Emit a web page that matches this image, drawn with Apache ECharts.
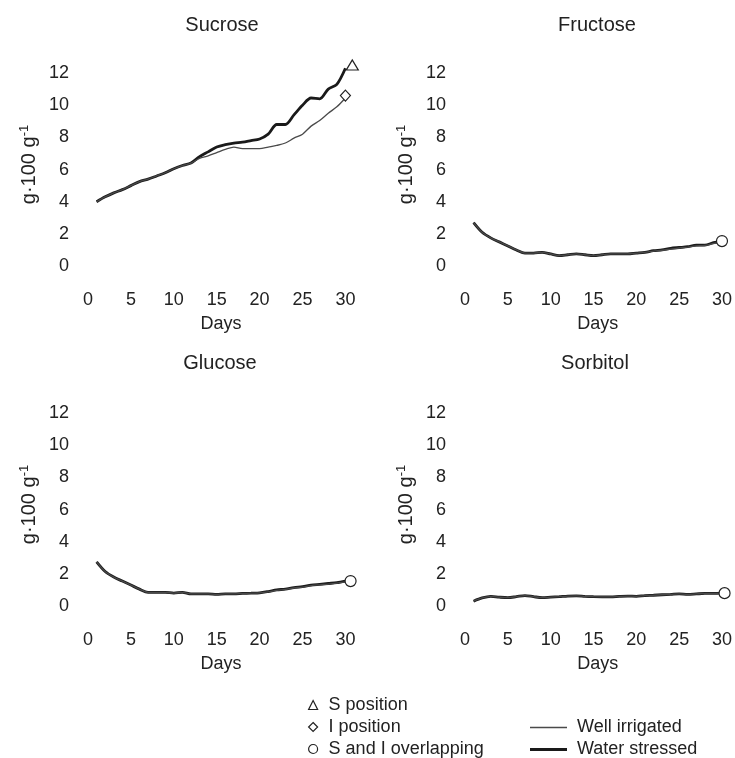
<!DOCTYPE html>
<html>
<head>
<meta charset="utf-8">
<script src="https://cdn.jsdelivr.net/npm/echarts@6/dist/echarts.min.js"></script>
<style>html,body{margin:0;padding:0;background:#fff}#c{width:735px;height:758px}</style>
</head>
<body>
<div id="c"></div>
<script>
var days = [1,2,3,4,5,6,7,8,9,10,11,12,13,14,15,16,17,18,19,20,21,22,23,24,25,26,27,28,29,30];
var panelTitles = ['Sucrose','Fructose','Glucose','Sorbitol'];
var xTicks = [0,5,10,15,20,25,30];
var yTicks = [0,2,4,6,8,10,12];

var sucroseWell = [4.0,4.3,4.55,4.75,5.0,5.25,5.4,5.6,5.8,6.05,6.25,6.4,6.7,6.85,7.05,7.25,7.4,7.3,7.3,7.3,7.4,7.5,7.65,7.95,8.2,8.7,9.05,9.5,9.9,10.45];
var sucroseStress = [4.0,4.3,4.55,4.75,5.0,5.25,5.4,5.6,5.8,6.05,6.25,6.4,6.8,7.1,7.4,7.55,7.65,7.7,7.8,7.9,8.2,8.8,8.8,9.4,10.0,10.45,10.4,11.0,11.3,12.3];
var fructoseWell = [2.7,2.1,1.75,1.5,1.25,1.0,0.8,0.8,0.85,0.75,0.65,0.7,0.75,0.7,0.65,0.7,0.75,0.75,0.75,0.8,0.85,0.93,0.98,1.05,1.12,1.18,1.25,1.28,1.4,1.5];
var fructoseStress = [2.7,2.1,1.75,1.5,1.25,1.0,0.8,0.8,0.85,0.75,0.65,0.7,0.75,0.7,0.65,0.7,0.75,0.75,0.75,0.8,0.85,0.95,1.0,1.1,1.15,1.2,1.3,1.3,1.45,1.55];
var glucoseWell = [2.75,2.15,1.8,1.55,1.3,1.05,0.85,0.85,0.85,0.8,0.85,0.75,0.75,0.75,0.72,0.75,0.75,0.78,0.8,0.82,0.88,0.97,1.03,1.12,1.18,1.27,1.32,1.36,1.42,1.5];
var glucoseStress = [2.75,2.15,1.8,1.55,1.3,1.05,0.85,0.85,0.85,0.8,0.85,0.75,0.75,0.75,0.72,0.75,0.75,0.78,0.8,0.82,0.9,1.0,1.05,1.15,1.2,1.3,1.35,1.4,1.45,1.55];
var sorbitolWell = [0.3,0.5,0.6,0.55,0.52,0.58,0.65,0.58,0.52,0.55,0.58,0.62,0.63,0.6,0.58,0.57,0.57,0.6,0.62,0.6,0.65,0.67,0.7,0.72,0.75,0.72,0.75,0.78,0.78,0.8];
var sorbitolStress = [0.3,0.5,0.6,0.55,0.52,0.58,0.65,0.58,0.52,0.55,0.58,0.62,0.63,0.6,0.58,0.57,0.57,0.6,0.62,0.6,0.65,0.67,0.7,0.72,0.75,0.72,0.75,0.78,0.78,0.8];

var sPositionMark = [[30.8, 12.5]];
var iPositionMark = [[30.0, 10.6]];
var overlapMarks = [[], [[30.0, 1.55]], [[30.6, 1.55]], [[30.3, 0.8]]];

var markerLegend = ['S position', 'I position', 'S and I overlapping'];
var lineLegend = ['Well irrigated', 'Water stressed'];

var wellSets = [sucroseWell, fructoseWell, glucoseWell, sorbitolWell];
var stressSets = [sucroseStress, fructoseStress, glucoseStress, sorbitolStress];

function pairs(arr){ return arr.map(function(v,i){ return [days[i], v]; }); }

var FONT = 'Liberation Sans, Arial, Helvetica, sans-serif';
var TXT = '#222';
var THIN = '#4a4a4a', THICK = '#1a1a1a';

var gridPos = [
  {left: 88, right: 381, top: 57, bottom: 492},
  {left: 465, right: 4, top: 57, bottom: 492},
  {left: 88, right: 381, top: 397, bottom: 152},
  {left: 465, right: 4, top: 397, bottom: 152}
];
var titlePos = [[222, 14], [597, 14], [220, 352], [595, 352]];

var grids = [], xAxes = [], yAxes = [], titles = [], series = [];
for (var i = 0; i < 4; i++) {
  grids.push(gridPos[i]);
  titles.push({text: panelTitles[i], left: titlePos[i][0], top: titlePos[i][1], textAlign: 'center', padding: 0,
    textStyle: {fontFamily: FONT, fontSize: 20, fontWeight: 'normal', color: TXT, lineHeight: 22}});
  xAxes.push({type: 'value', gridIndex: i, min: 0, max: 31, interval: 5,
    name: 'Days', nameLocation: 'middle', nameGap: 49,
    nameTextStyle: {fontFamily: FONT, fontSize: 18, color: TXT},
    axisLine: {show: false}, axisTick: {show: false}, splitLine: {show: false},
    axisLabel: {margin: 25, fontFamily: FONT, fontSize: 18, color: TXT,
      formatter: function(v){ return xTicks.indexOf(v) >= 0 ? String(v) : ''; }}});
  yAxes.push({type: 'value', gridIndex: i, min: 0, max: 13, interval: 1,
    name: 'g·100 g{s|-1}', nameLocation: 'middle', nameGap: 47, nameRotate: 90,
    nameTextStyle: {fontFamily: FONT, fontSize: 20, color: TXT, lineHeight: 23, padding: [0,6,0,0],
      rich: {s: {fontFamily: FONT, fontSize: 13, color: TXT, verticalAlign: 'top', lineHeight: 14}}},
    axisLine: {show: false}, axisTick: {show: false}, splitLine: {show: false},
    axisLabel: {margin: 19, fontFamily: FONT, fontSize: 18, color: TXT,
      formatter: function(v){ return yTicks.indexOf(v) >= 0 ? String(v) : ''; }}});
  series.push({type: 'line', name: lineLegend[0], xAxisIndex: i, yAxisIndex: i,
    data: pairs(wellSets[i]), symbol: 'none', smooth: 0.3, clip: false,
    lineStyle: {color: THIN, width: 1.3}, itemStyle: {color: THIN}, z: 3});
  series.push({type: 'line', name: lineLegend[1], xAxisIndex: i, yAxisIndex: i,
    data: pairs(stressSets[i]), symbol: 'none', smooth: 0.3, clip: false,
    lineStyle: {color: THICK, width: 2.8}, itemStyle: {color: THICK}, z: 2});
  if (overlapMarks[i].length) {
    series.push({type: 'scatter', name: markerLegend[2], xAxisIndex: i, yAxisIndex: i,
      data: overlapMarks[i], symbol: 'circle', symbolSize: 11, clip: false,
      itemStyle: {color: '#fff', borderColor: '#222', borderWidth: 1.2, opacity: 1}, z: 5});
  }
}
series.push({type: 'scatter', name: markerLegend[0], xAxisIndex: 0, yAxisIndex: 0,
  data: sPositionMark, symbol: 'triangle', symbolSize: [12, 10], clip: false,
  itemStyle: {color: '#fff', borderColor: '#222', borderWidth: 1.2, opacity: 1}, z: 5});
series.push({type: 'scatter', name: markerLegend[1], xAxisIndex: 0, yAxisIndex: 0,
  data: iPositionMark, symbol: 'diamond', symbolSize: [10, 11], clip: false,
  itemStyle: {color: '#fff', borderColor: '#222', borderWidth: 1.2, opacity: 1}, z: 5});

var option = {
  backgroundColor: '#fff',
  animation: false,
  title: titles,
  grid: grids,
  xAxis: xAxes,
  yAxis: yAxes,
  legend: [
    {orient: 'vertical', left: 308, top: 694, height: 120, padding: 0, itemWidth: 9, itemHeight: 9, itemGap: 0,
      selectedMode: false,
      itemStyle: {borderWidth: 1.2, borderColor: '#222'},
      textStyle: {fontFamily: FONT, fontSize: 18, color: TXT, lineHeight: 22, padding: [0,0,0,6]},
      data: [{name: markerLegend[0], icon: 'triangle'}, {name: markerLegend[1], icon: 'diamond'}, {name: markerLegend[2], icon: 'circle'}]}
  ],
  graphic: [
    {type: 'line', shape: {x1: 530, y1: 727.5, x2: 567, y2: 727.5}, style: {stroke: THIN, lineWidth: 1.3}},
    {type: 'line', shape: {x1: 530, y1: 749.5, x2: 567, y2: 749.5}, style: {stroke: THICK, lineWidth: 2.8}},
    {type: 'text', left: 577, top: 718, style: {text: lineLegend[0], font: '18px ' + FONT, fill: TXT}},
    {type: 'text', left: 577, top: 740, style: {text: lineLegend[1], font: '18px ' + FONT, fill: TXT}}
  ],
  series: series
};
var chart = echarts.init(document.getElementById('c'));
chart.setOption(option);
</script>
</body>
</html>
